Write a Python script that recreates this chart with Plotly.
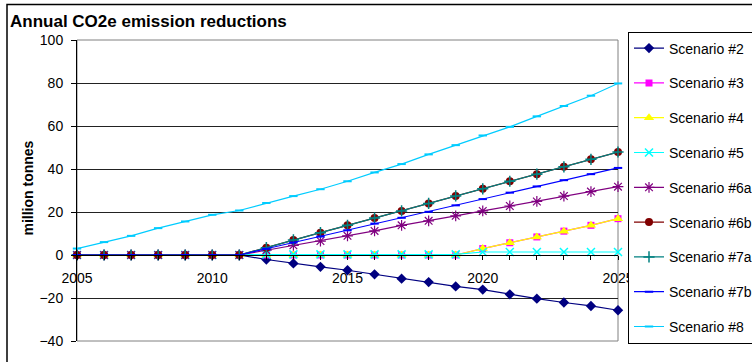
import plotly.graph_objects as go

# Reporting years and tick labels for the category axis
years = list(range(2005, 2026))
x_tick_labels = [str(y) if y % 5 == 0 else "" for y in years]

# Annual CO2e emission reductions by scenario (million tonnes)
scenario_2 = [0, 0, 0, 0, 0, 0, 0, -2.1, -3.9, -5.5, -7.1, -9.0, -11.0, -12.6, -14.6, -16.1, -18.3, -20.3, -22.1, -23.7, -25.7]
scenario_3 = [0, 0, 0, 0, 0, 0, 0, 0, 0, 0, 0, 0, 0, 0, 0, 3.0, 5.7, 8.4, 11.1, 13.8, 16.9]
scenario_4 = [0, 0, 0, 0, 0, 0, 0, 0, 0, 0, 0, 0, 0, 0, 0, 3.0, 5.7, 8.4, 11.1, 13.8, 16.9]
scenario_5 = [0, 0, 0, 0, 0, 0, 0, 0.3, 0.3, 0.3, 0.3, 0.3, 0.3, 0.3, 0.3, 1.4, 1.4, 1.4, 1.4, 1.4, 1.4]
scenario_6a = [0, 0, 0, 0, 0, 0, 0, 2.2, 4.5, 6.5, 8.9, 11.2, 13.8, 15.9, 18.2, 20.5, 22.8, 24.9, 27.4, 29.5, 31.8]
scenario_6b = [0, 0, 0, 0, 0, 0, 0, 3.4, 7.0, 10.4, 13.8, 17.2, 20.5, 24.0, 27.5, 30.8, 34.3, 37.6, 41.0, 44.5, 47.9]
scenario_7a = [0, 0, 0, 0, 0, 0, 0, 3.4, 7.0, 10.4, 13.8, 17.2, 20.5, 24.0, 27.5, 30.8, 34.3, 37.6, 41.0, 44.5, 47.9]
scenario_7b = [0, 0, 0, 0, 0, 0, 0, 2.9, 5.8, 8.6, 11.5, 14.6, 17.3, 20.1, 23.1, 26.0, 29.0, 31.9, 34.8, 37.6, 40.5]
scenario_8 = [3.0, 6.0, 8.9, 12.5, 15.6, 18.7, 20.7, 24.2, 27.4, 30.6, 34.3, 38.4, 42.3, 46.8, 51.1, 55.6, 59.6, 64.5, 69.3, 74.1, 79.8]

series = [
    ("Scenario #2", scenario_2, "#000080", dict(symbol="diamond", size=8)),
    ("Scenario #3", scenario_3, "#FF00FF", dict(symbol="square", size=7)),
    ("Scenario #4", scenario_4, "#FFFF00", dict(symbol="triangle-up", size=9)),
    ("Scenario #5", scenario_5, "#00FFFF", dict(symbol="x-thin", size=8, line=dict(width=1.5, color="#00FFFF"))),
    ("Scenario #6a", scenario_6a, "#800080", dict(symbol="asterisk", size=9, line=dict(width=1.2, color="#800080"))),
    ("Scenario #6b", scenario_6b, "#800000", dict(symbol="circle", size=8)),
    ("Scenario #7a", scenario_7a, "#008080", dict(symbol="cross-thin", size=8, line=dict(width=1.5, color="#008080"))),
    ("Scenario #7b", scenario_7b, "#0000FF", dict(symbol="line-ew", size=6, line=dict(width=2, color="#0000FF"))),
    ("Scenario #8", scenario_8, "#00CCFF", dict(symbol="line-ew", size=6, line=dict(width=2, color="#00CCFF"))),
]

FONT = "Arial, Liberation Sans, sans-serif"

fig = go.Figure()
for name, values, color, marker in series:
    marker = dict(marker)
    marker.setdefault("color", color)
    fig.add_trace(go.Scatter(
        x=years, y=values, name=name, mode="lines+markers",
        line=dict(color=color, width=1.2), marker=marker,
        legendgroup=name, cliponaxis=False,
    ))

# plot area geometry (pixels)
L, R, T, B = 77, 618, 40, 341
W, H = 752, 362
Y_MIN, Y_MAX = -40, 100

def px_x(p):
    return (p - L) / (R - L)

def px_y(p):
    return (B - p) / (B - T)

fig.update_layout(
    width=W, height=H,
    margin=dict(l=L, r=W - R, t=T, b=H - B, autoexpand=False),
    paper_bgcolor="white", plot_bgcolor="white",
    font=dict(family=FONT, size=14, color="black"),
    title=dict(
        text="<b>Annual CO2e emission reductions</b>",
        font=dict(family=FONT, size=17, color="black"),
        xref="container", yref="container",
        x=10 / W, xanchor="left", y=1 - 21 / H, yanchor="middle",
    ),
    xaxis=dict(
        range=[years[0], years[-1]],
        tickvals=years, ticktext=x_tick_labels,
        anchor="free", position=(0 - Y_MIN) / (Y_MAX - Y_MIN),
        showline=True, linecolor="black", linewidth=1,
        ticks="outside", ticklen=4, tickcolor="black", tickwidth=1,
        ticklabelstandoff=6,
        showgrid=False, zeroline=False,
        tickfont=dict(size=14),
    ),
    yaxis=dict(
        range=[Y_MIN, Y_MAX], dtick=20, tick0=0,
        showline=True, linecolor="black", linewidth=1,
        ticks="outside", ticklen=5, tickcolor="black",
        ticklabelstandoff=5,
        showgrid=True, gridcolor="#222222", gridwidth=1,
        zeroline=False,
        tickfont=dict(size=14),
    ),
    legend=dict(
        x=px_x(628), xanchor="left", y=px_y(31.5), yanchor="top",
        bgcolor="white", bordercolor="black", borderwidth=1,
        font=dict(family=FONT, size=14, color="black"),
        tracegroupgap=13.6, itemwidth=30, maxheight=500,
    ),
    showlegend=True,
)

# y-axis title
fig.add_annotation(
    text="<b>million tonnes</b>", textangle=-90,
    xref="paper", yref="paper", x=px_x(27.5), y=px_y(188),
    xanchor="center", yanchor="middle", showarrow=False,
    font=dict(family=FONT, size=14, color="black"),
)

# plot-area frame (top, right, bottom)
fig.add_shape(type="rect", xref="paper", yref="paper", x0=0, x1=1, y0=0, y1=1,
              line=dict(color="#808080", width=1), layer="below")
# outer chart frame
fig.add_shape(type="rect", xref="paper", yref="paper",
              x0=px_x(7), x1=px_x(W + 20), y0=px_y(H + 20), y1=px_y(4.5),
              line=dict(color="black", width=1.5))

fig.write_html("out.html")
